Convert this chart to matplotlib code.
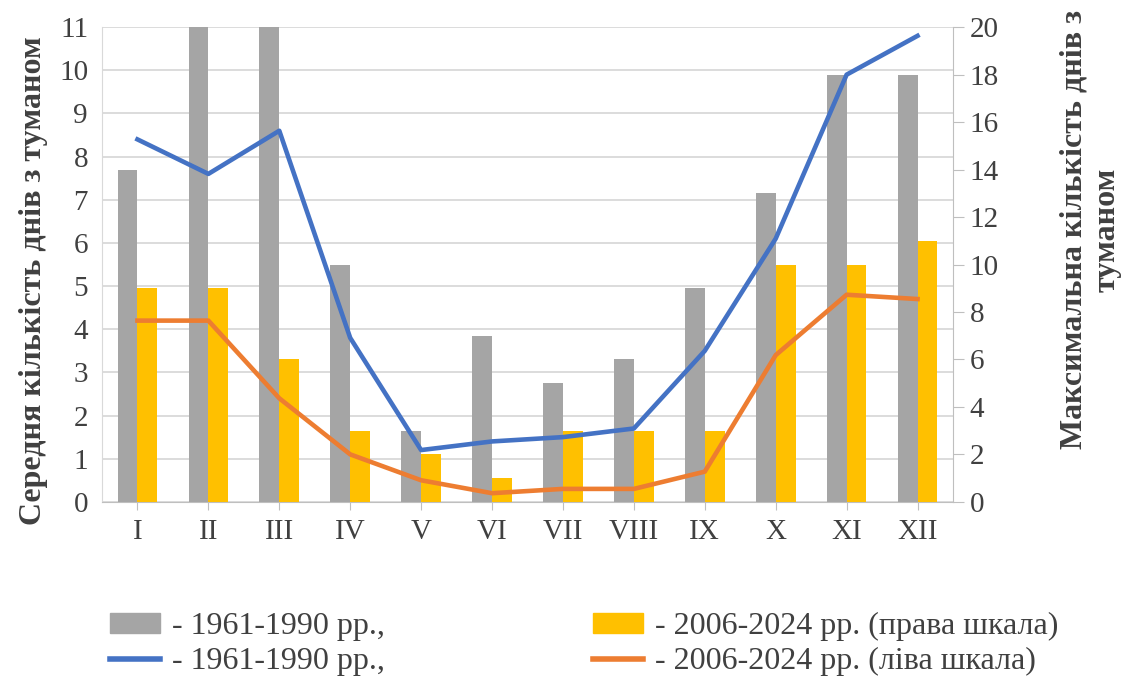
import matplotlib.pyplot as plt
import numpy as np
from matplotlib.patches import Patch
from matplotlib.lines import Line2D

months = ["I", "II", "III", "IV", "V", "VI", "VII", "VIII", "IX", "X", "XI", "XII"]

# max number of fog days (right scale, bars)
max_1961_1990 = [14, 20, 20, 10, 3, 7, 5, 6, 9, 13, 18, 18]
max_2006_2024 = [9, 9, 6, 3, 2, 1, 3, 3, 3, 10, 10, 11]

# mean number of fog days (left scale, lines)
mean_1961_1990 = [8.4, 7.6, 8.6, 3.8, 1.2, 1.4, 1.5, 1.7, 3.5, 6.1, 9.9, 10.8]
mean_2006_2024 = [4.2, 4.2, 2.4, 1.1, 0.5, 0.2, 0.3, 0.3, 0.7, 3.4, 4.8, 4.7]

plt.rcParams['font.family'] = ['Liberation Serif', 'DejaVu Serif']

c_gray = "#a5a5a5"
c_yellow = "#ffc000"
c_blue = "#4472c4"
c_orange = "#ed7d31"
txt = "#404040"

fig = plt.figure(figsize=(11.27, 6.8), dpi=100)
ax = fig.add_axes([0.0905, 0.262, 0.7551, 0.698])
x = np.arange(len(months))

# left axis: grid and ticks
ax.set_ylim(0, 11)
ax.set_yticks(range(0, 12))
ax.set_xlim(-0.5, len(months) - 0.5)
ax.grid(axis="y", color="#d9d9d9", linewidth=1.3)
ax.set_axisbelow(True)
for s in ["top", "right"]:
    ax.spines[s].set_visible(False)
ax.spines["left"].set_color("#d9d9d9")
ax.spines["bottom"].set_color("#bfbfbf")
ax.tick_params(axis="y", length=0, labelsize=21, labelcolor=txt, pad=10)
ax.set_xticks(x)
ax.set_xticklabels(months)
ax.tick_params(axis="x", length=6, color="#bfbfbf", labelsize=21, labelcolor=txt, pad=6)
ax.set_ylabel("Середня кількість днів з туманом", fontsize=23, fontweight="bold",
              color=txt)
ax.yaxis.set_label_coords(-0.063, 0.467)

# bars on the right scale
ax2 = ax.twinx()
w = 0.28
ax2.bar(x, max_1961_1990, width=-w, align="edge", color=c_gray)
ax2.bar(x, max_2006_2024, width=w, align="edge", color=c_yellow)
ax2.set_ylim(0, 20)
ax2.set_yticks(range(0, 21, 2))
for s in ["top", "left", "bottom"]:
    ax2.spines[s].set_visible(False)
ax2.spines["right"].set_color("#bfbfbf")
ax2.tick_params(axis="y", length=8, color="#bfbfbf", labelsize=21, labelcolor=txt, pad=4)
ax2.set_ylabel("Максимальна кількість днів з\nтуманом", fontsize=23, fontweight="bold",
               color=txt)
ax2.yaxis.set_label_coords(1.125, 0.573)

# lines on the left scale, drawn on top
ax3 = ax.twinx()
ax3.set_ylim(0, 11)
ax3.plot(x, mean_1961_1990, color=c_blue, linewidth=3.3)
ax3.plot(x, mean_2006_2024, color=c_orange, linewidth=3.3)
ax3.set_yticks([])
for s in ax3.spines.values():
    s.set_visible(False)

handles = [
    Patch(color=c_gray),
    Line2D([], [], color=c_blue, linewidth=4),
    Patch(color=c_yellow),
    Line2D([], [], color=c_orange, linewidth=4),
]
labels = ["- 1961-1990 рр.,", "- 1961-1990 рр.,",
          "- 2006-2024 рр. (права шкала)", "- 2006-2024 рр. (ліва шкала)"]
fig.legend(handles, labels, ncol=2, loc="lower left", bbox_to_anchor=(0.072, -0.037),
           frameon=False, fontsize=23, handlelength=1.57, handleheight=0.6,
           columnspacing=6.5, labelspacing=0.2, handletextpad=0.38, labelcolor=txt)

fig.savefig("out.png", dpi=100)
